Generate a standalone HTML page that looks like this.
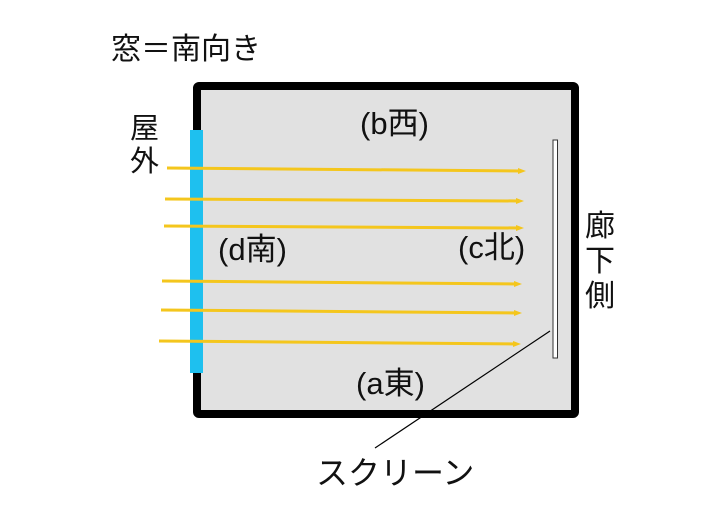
<!DOCTYPE html>
<html><head><meta charset="utf-8"><style>
body{margin:0;background:#fff;}
svg{display:block;}
text{font-family:"Liberation Sans","Noto Sans CJK JP",sans-serif;fill:#111;}
</style></head><body>
<svg width="715" height="516" viewBox="0 0 715 516" xmlns="http://www.w3.org/2000/svg">
<rect x="197" y="86" width="378" height="328" fill="#e1e1e1" stroke="#000" stroke-width="8" rx="2"/>
<rect x="190" y="130" width="13" height="243" fill="#1ec0ef"/>
<g stroke="#f4c61d" stroke-width="3">
<line x1="167" y1="168" x2="522" y2="171"/>
<line x1="165" y1="199" x2="520" y2="201"/>
<line x1="164" y1="226" x2="520" y2="228"/>
<line x1="162" y1="281" x2="518" y2="284"/>
<line x1="161" y1="310" x2="518" y2="313"/>
<line x1="159" y1="341" x2="517" y2="344"/>
</g>
<g fill="#f4c61d">
<polygon points="526,171 518,168 518,174"/>
<polygon points="524,201 516,198 516,204"/>
<polygon points="524,228 516,225 516,231"/>
<polygon points="522,284 514,281 514,287"/>
<polygon points="522,313 514,310 514,316"/>
<polygon points="521,344 513,341 513,347"/>
</g>
<rect x="553" y="140" width="4.5" height="218" fill="#fff" stroke="#333" stroke-width="1"/>
<line x1="550" y1="331" x2="375" y2="448" stroke="#000" stroke-width="1.2"/>
<text x="111" y="59" font-size="30">窓＝南向き</text>
<text x="360" y="134" font-size="31">(b西)</text>
<text x="218" y="260" font-size="31">(d南)</text>
<text x="458" y="258" font-size="31">(c北)</text>
<text x="356" y="394" font-size="31">(a東)</text>
<text x="316" y="484" font-size="32">スクリーン</text>
<text x="130" y="138" font-size="29">屋</text>
<text x="130" y="171" font-size="29">外</text>
<text x="585" y="236" font-size="30">廊</text>
<text x="585" y="271" font-size="30">下</text>
<text x="585" y="306" font-size="30">側</text>
</svg>
</body></html>
